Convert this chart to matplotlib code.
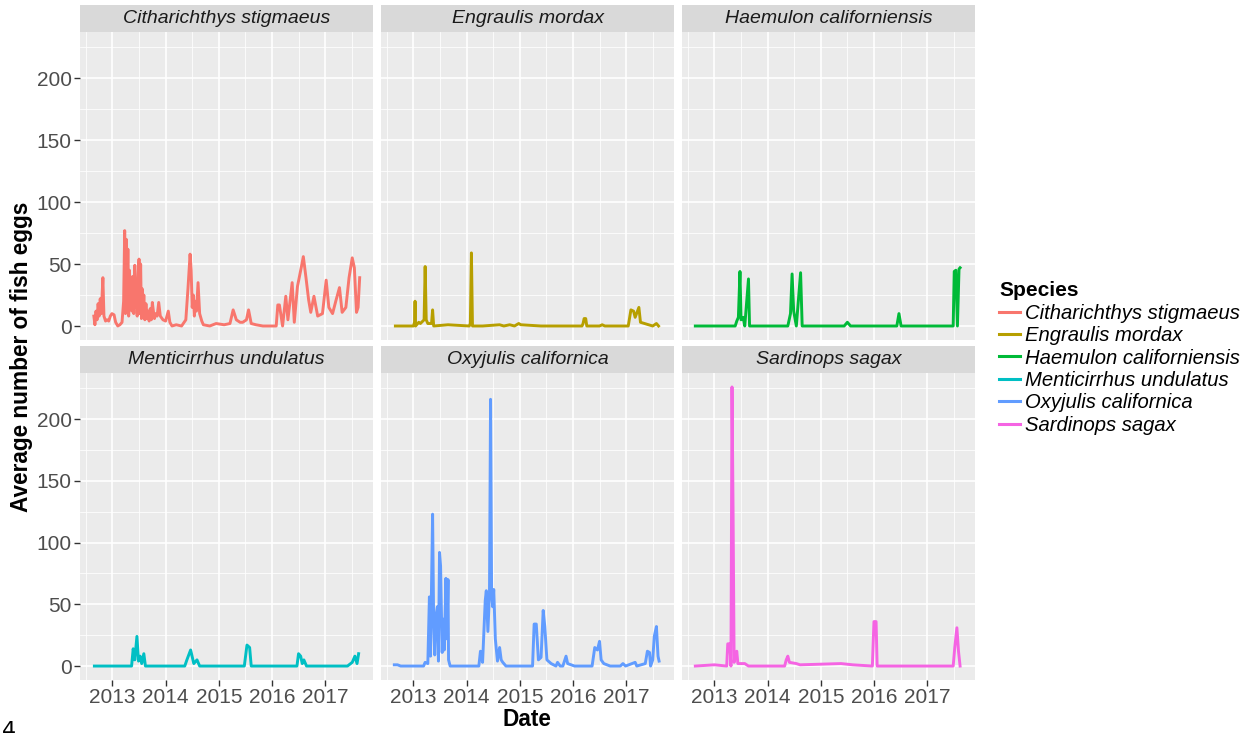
import matplotlib
matplotlib.use("Agg")
import matplotlib.pyplot as plt
from matplotlib.lines import Line2D

# ---------------- data (decimal year, average number of eggs) ----------------
species = ["Citharichthys stigmaeus", "Engraulis mordax", "Haemulon californiensis",
           "Menticirrhus undulatus", "Oxyjulis californica", "Sardinops sagax"]
colors = ["#F8766D", "#B79F00", "#00BA38", "#00BFC4", "#619CFF", "#F564E3"]

cith_t = [2012.65, 2012.67, 2012.69, 2012.71, 2012.73, 2012.75, 2012.77, 2012.79, 2012.82, 2012.84,
          2012.87, 2012.90, 2012.93, 2012.96, 2012.99, 2013.03, 2013.06, 2013.10, 2013.14, 2013.18,
          2013.21, 2013.23, 2013.245, 2013.26, 2013.275, 2013.29, 2013.305, 2013.32, 2013.335, 2013.35,
          2013.365, 2013.38, 2013.40, 2013.42, 2013.435, 2013.45, 2013.465, 2013.48, 2013.50, 2013.515,
          2013.53, 2013.545, 2013.56, 2013.575, 2013.59, 2013.61, 2013.63, 2013.65, 2013.67, 2013.69,
          2013.71, 2013.73, 2013.75, 2013.77, 2013.79, 2013.81, 2013.84, 2013.87, 2013.90, 2013.95,
          2014.00, 2014.05, 2014.08, 2014.12, 2014.20, 2014.30, 2014.38, 2014.42, 2014.46, 2014.48,
          2014.50, 2014.52, 2014.54, 2014.56, 2014.58, 2014.61, 2014.64, 2014.68, 2014.71, 2014.83,
          2014.95, 2015.10, 2015.21, 2015.27, 2015.33, 2015.40, 2015.45, 2015.52, 2015.56, 2015.61,
          2015.70, 2015.83, 2016.08, 2016.11, 2016.14, 2016.20, 2016.26, 2016.30, 2016.38, 2016.42,
          2016.48, 2016.55, 2016.59, 2016.64, 2016.69, 2016.73, 2016.79, 2016.86, 2016.95, 2017.02,
          2017.07, 2017.14, 2017.20, 2017.27, 2017.32, 2017.39, 2017.45, 2017.51, 2017.55, 2017.59,
          2017.62, 2017.65]
cith_v = [8, 1, 12, 5, 18, 8, 22, 10, 39, 8,
          4, 5, 4, 8, 10, 9, 3, 0, 1, 3,
          20, 77, 10, 70, 15, 62, 8, 45, 20, 30,
          12, 40, 10, 49, 15, 35, 8, 40, 54, 10,
          50, 6, 30, 12, 25, 5, 18, 6, 12, 4,
          14, 5, 19, 12, 6, 10, 8, 19, 8, 5,
          4, 12, 3, 0, 1, 0, 5, 30, 58, 45,
          15, 25, 8, 20, 12, 35, 10, 4, 1, 0,
          2, 1, 2, 13, 5, 3, 3, 5, 13, 2,
          1, 0, 0, 17, 17, 0, 24, 5, 35, 3,
          32, 47, 56, 39, 21, 11, 24, 8, 10, 37,
          15, 10, 20, 31, 11, 15, 39, 55, 47, 11,
          15, 39]

engr_t = [2012.66, 2013.00, 2013.02, 2013.03, 2013.04, 2013.10, 2013.13, 2013.20, 2013.22, 2013.24,
          2013.27, 2013.34, 2013.36, 2013.38, 2013.65, 2014.05, 2014.07, 2014.09, 2014.11, 2014.30,
          2014.62, 2014.70, 2014.81, 2014.90, 2014.98, 2015.02, 2015.40, 2016.17, 2016.19, 2016.21,
          2016.24, 2016.26, 2016.50, 2016.55, 2016.60, 2017.04, 2017.09, 2017.14, 2017.17, 2017.24,
          2017.27, 2017.50, 2017.57, 2017.61]
engr_v = [0, 0, 3, 20, 0, 3, 2, 5, 48, 5,
          2, 2, 13, 0, 1, 0, 2, 59, 0, 0,
          1, 0, 1, 0, 2, 1, 0, 0, 2, 6,
          6, 0, 0, 1, 0, 0, 13, 12, 7, 15,
          3, 0, 2, 0]

haem_t = [2012.64, 2013.39, 2013.42, 2013.45, 2013.48, 2013.50, 2013.54, 2013.57, 2013.64, 2013.66,
          2014.38, 2014.43, 2014.46, 2014.49, 2014.54, 2014.62, 2014.65, 2015.44, 2015.50, 2015.56,
          2016.43, 2016.47, 2016.51, 2017.49, 2017.51, 2017.54, 2017.57, 2017.60, 2017.62]
haem_v = [0, 0, 4, 7, 44, 5, 7, 0, 38, 0,
          0, 10, 42, 12, 0, 43, 0, 0, 3, 0,
          0, 10, 0, 0, 44, 45, 0, 46, 47]

ment_t = [2012.66, 2013.36, 2013.39, 2013.42, 2013.46, 2013.49, 2013.52, 2013.55, 2013.59, 2013.62,
          2014.36, 2014.40, 2014.47, 2014.53, 2014.59, 2014.64, 2015.48, 2015.53, 2015.58, 2015.61,
          2016.47, 2016.50, 2016.54, 2016.57, 2016.60, 2016.65, 2017.42, 2017.51, 2017.56, 2017.60,
          2017.63]
ment_v = [0, 0, 14, 5, 24, 4, 8, 2, 10, 0,
          0, 5, 13, 2, 5, 0, 0, 17, 15, 0,
          0, 10, 8, 2, 5, 0, 0, 3, 8, 2,
          10]

oxyj_t = [2012.64, 2012.70, 2012.76, 2013.19, 2013.22, 2013.27, 2013.30, 2013.32, 2013.36, 2013.38,
          2013.40, 2013.42, 2013.45, 2013.47, 2013.49, 2013.51, 2013.54, 2013.56, 2013.58, 2013.61,
          2013.63, 2013.65, 2013.66, 2013.69, 2014.23, 2014.26, 2014.30, 2014.35, 2014.37, 2014.40,
          2014.43, 2014.45, 2014.47, 2014.49, 2014.51, 2014.54, 2014.58, 2014.62, 2014.65, 2014.68,
          2014.74, 2015.24, 2015.27, 2015.31, 2015.35, 2015.40, 2015.44, 2015.47, 2015.51, 2015.59,
          2015.68, 2015.71, 2015.76, 2015.81, 2015.87, 2015.90, 2016.03, 2016.36, 2016.41, 2016.46,
          2016.50, 2016.53, 2016.58, 2016.64, 2016.70, 2016.89, 2016.94, 2016.99, 2017.17, 2017.20,
          2017.36, 2017.40, 2017.44, 2017.46, 2017.50, 2017.53, 2017.57, 2017.60, 2017.62]
oxyj_v = [1, 1, 0, 0, 3, 2, 56, 8, 123, 35,
          9, 40, 48, 4, 92, 81, 11, 38, 13, 71,
          22, 70, 5, 0, 0, 12, 3, 53, 61, 28,
          59, 216, 59, 48, 62, 22, 4, 15, 5, 3,
          0, 0, 34, 34, 5, 7, 45, 32, 5, 2,
          0, 3, 0, 0, 8, 2, 0, 0, 15, 13,
          20, 5, 2, 1, 0, 0, 2, 0, 3, 0,
          2, 12, 11, 0, 5, 24, 32, 8, 4]

sard_t = [2012.64, 2013.00, 2013.23, 2013.25, 2013.29, 2013.31, 2013.33, 2013.35, 2013.37, 2013.39,
          2013.42, 2013.44, 2013.48, 2013.57, 2013.64, 2014.32, 2014.35, 2014.38, 2014.41, 2014.54,
          2014.61, 2015.38, 2015.60, 2015.97, 2016.00, 2016.04, 2016.06, 2017.49, 2017.52, 2017.56,
          2017.59, 2017.62]
sard_v = [0, 1, 0, 18, 18, 0, 226, 126, 3, 9,
          12, 2, 2, 2, 0, 0, 5, 8, 3, 2,
          1, 2, 1, 0, 36, 36, 0, 0, 15, 31,
          12, 0]

series_t = [cith_t, engr_t, haem_t, ment_t, oxyj_t, sard_t]
series_v = [cith_v, engr_v, haem_v, ment_v, oxyj_v, sard_v]

year_ticks = [2013, 2014, 2015, 2016, 2017]
y_ticks = [0, 50, 100, 150, 200]

# ---------------- figure ----------------
W, H = 1252, 733
fig = plt.figure(figsize=(W / 100, H / 100), dpi=100)
fig.patch.set_facecolor("white")
FONT = "Liberation Sans"

all_t = [t for s in series_t for t in s]
all_v = [v for s in series_v for v in s]
tmin, tmax = min(all_t), max(all_t)
vmin, vmax = min(all_v), max(all_v)
xlim = (tmin - 0.05 * (tmax - tmin), tmax + 0.05 * (tmax - tmin))
ylim = (vmin - 0.05 * (vmax - vmin), vmax + 0.05 * (vmax - vmin))

col_left = [80, 381, 682]
col_w = 293
row_top = [32, 373]
row_h = [308, 307]
strip_h = 27

for i, name in enumerate(species):
    r, c = divmod(i, 3)
    left = col_left[c] / W
    bottom = 1 - (row_top[r] + row_h[r]) / H
    ax = fig.add_axes([left, bottom, col_w / W, row_h[r] / H])
    ax.set_facecolor("#EBEBEB")
    for s in ax.spines.values():
        s.set_visible(False)
    ax.set_xlim(*xlim)
    ax.set_ylim(*ylim)
    ax.set_xticks(year_ticks)
    ax.set_yticks(y_ticks)
    ax.set_xticks([y + 0.5 for y in range(2012, 2018)], minor=True)
    ax.set_yticks([25, 75, 125, 175, 225], minor=True)
    ax.grid(which="major", color="white", lw=1.2)
    ax.grid(which="minor", color="white", lw=0.55)
    ax.set_axisbelow(True)
    ax.tick_params(which="minor", length=0)
    ax.tick_params(which="major", length=4, width=1.0, color="#333333",
                   labelcolor="#4D4D4D", labelsize=15, pad=2)
    for lab in ax.get_xticklabels() + ax.get_yticklabels():
        lab.set_fontfamily(FONT)
    if r == 0:
        ax.tick_params(axis="x", length=0, labelbottom=False)
    if c != 0:
        ax.tick_params(axis="y", length=0, labelleft=False)
    ax.plot(series_t[i], series_v[i], color=colors[i], lw=2.1, solid_joinstyle="round")

    sax = fig.add_axes([left, 1 - row_top[r] / H, col_w / W, strip_h / H])
    sax.set_facecolor("#D9D9D9")
    sax.set_xticks([]); sax.set_yticks([])
    for s in sax.spines.values():
        s.set_visible(False)
    sax.text(0.5, 0.5, name, ha="center", va="center", fontsize=14,
             style="italic", color="#1A1A1A", family=FONT, transform=sax.transAxes)

fig.text(22 / W, 1 - 357 / H, "Average number of fish eggs", rotation=90,
         ha="center", va="center", fontsize=16.3, fontweight="bold", family=FONT)
fig.text(527 / W, 1 - 719 / H, "Date", ha="center", va="center",
         fontsize=16.3, fontweight="bold", family=FONT)
fig.text(2 / W, 1 - 721 / H, "4", ha="left", va="top", fontsize=16, family="DejaVu Sans")

handles = [Line2D([], [], color=col, lw=2.2) for col in colors]
leg = fig.legend(handles, species, loc="upper left", bbox_to_anchor=(985 / W, 1 - 267 / H),
                 frameon=False, title="Species", alignment="left",
                 prop={"family": FONT, "style": "italic", "size": 14.6},
                 title_fontproperties={"family": FONT, "weight": "bold", "size": 15},
                 handlelength=1.05, handletextpad=0.2, labelspacing=0.17, borderpad=0.2)

fig.savefig("out.png", dpi=100)
